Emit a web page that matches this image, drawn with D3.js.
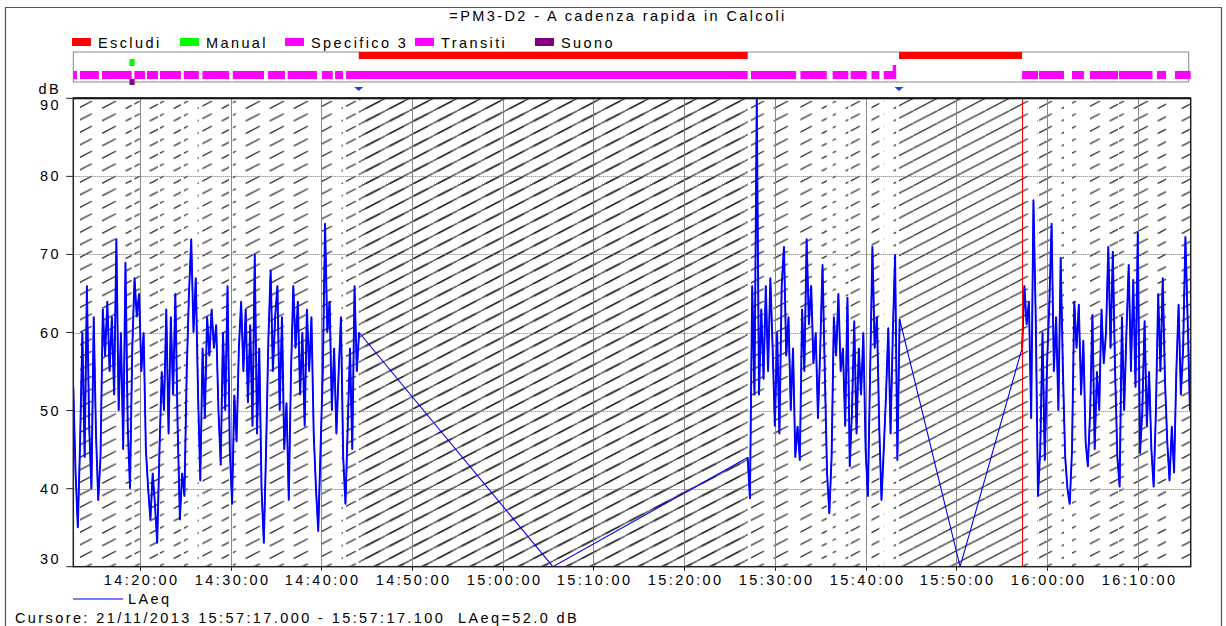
<!DOCTYPE html>
<html>
<head>
<meta charset="utf-8">
<script src="https://cdn.jsdelivr.net/npm/d3@7/dist/d3.min.js"></script>
<style>
  html, body { margin: 0; padding: 0; background: #fff; }
  svg { display: block; }
  text { font-family: "Liberation Sans", Arial, sans-serif; font-size: 14.5px; letter-spacing: 2.4px; fill: #000; white-space: pre; }
</style>
</head>
<body>
<svg id="chart" width="1226" height="626"></svg>
<script>
// ---------------- DATA ----------------
const title = "=PM3-D2 - A cadenza rapida in Calcoli";
const legendNames = ["Escludi", "Manual", "Specifico 3", "Transiti", "Suono"];
const legendColors = ["#ff0000", "#00ff00", "#ff00ff", "#ff00ff", "#800080"];
const domainTimes = ["14:12:40", "16:15:50"];
const yTicks = [30, 40, 50, 60, 70, 80, 90];
const cursorTime = "15:57:17";
const cursorText = "Cursore: 21/11/2013 15:57:17.000 - 15:57:17.100  LAeq=52.0 dB";
const seriesName = "LAeq";

// Escludi periods (start, end)
const escludiStarts = ["14:44:08", "15:43:41"];
const escludiEnds   = ["15:27:00", "15:57:15"];
// Transiti / Specifico 3 periods
const transitiStarts = ["14:12:40","14:13:24","14:15:50","14:19:24","14:20:47","14:22:13","14:24:51","14:26:54","14:30:15","14:34:08","14:36:18","14:40:05","14:41:31","14:42:44","15:27:22","15:32:49","15:36:22","15:38:21","15:40:39","15:42:00","15:57:15","15:59:07","16:02:45","16:04:44","16:07:56","16:12:07","16:14:06"];
const transitiEnds   = ["14:13:04","14:15:29","14:19:06","14:20:34","14:22:00","14:24:32","14:26:30","14:29:50","14:33:41","14:36:00","14:39:32","14:41:16","14:42:24","15:27:00","15:32:20","15:35:43","15:38:06","15:40:07","15:41:31","15:43:22","15:59:00","16:01:52","16:04:04","16:07:49","16:11:37","16:13:07","16:15:50"];
const specificoTall = ["15:42:59", "15:43:22"];
const manualPeriod = ["14:18:52", "14:19:25"];
const suonoPeriod  = ["14:18:52", "14:19:25"];
const markerTimes = ["14:44:08", "15:43:41"];

// LAeq series: three measured stretches sampled every 15 s, plus two bridge points
const stepSeconds = 15;
const seg1Start = "14:12:40";
const seg1Values = [53,42,35,46,60,44,66,48,40,62,47,38.5,44,63,57,64,55,62,52,72,50,60,45,69,48,40,58,67,62,65,55,60,45,40,36,42,38,33,45,55,
  50,63,47,62,52,65,48,36,42,39,55,65,72,60,67,52,41,58,49,62,57,63,58,61,50,43,60,50,66,45,38,52,46,58,64,55,63,51,61,48,
  70,47,58,40,33,45,59,68,55,62,66,50,62,45,51,38.5,55,66,58,64,52,60,48,63,55,62,47,40,34.5,45,55,74,60,64,50,58,47,55,62,44,38,48,58,45,66,55,60];
const seg2Start = "15:27:00";
const seg2Values = [44,38.7,66,52,90,52,63,54,66,55,67,58,48,60,47,66,71,57,62,50,58,44,48,43.6,63,55,72,61,66,56,60,49,58,68.7,55,42,36.8,44,62,57,
  65,55,58,48,64.5,42.8,50,61.5,47,58,52,60,45,39,55,71,58,62,48,38.5,45,52,60.6,47,60,70,43.6,61.7];
const seg3Start = "15:57:15";
const seg3Values = [58,66,61,64,49,77,62,39,45,60,43.6,56,63.6,74,55,62,50,69.6,55,44,40,38,45,64,58,63.6,52,59,46,42.8,50,62.3,45,55,50,63,56,60,71,58,
  70.4,55,44,40.2,62,50,60,68.7,55,66.8,53,72.8,44.5,50,61.5,48,55,45,40.2,50,65,55,67,53.8,46,41,48,42,55,63.6,52,58,72.3,61.5,50];
const bridgeTimes  = ["15:05:32", "15:50:25"];
const bridgeValues = [30, 30];

// ---------------- DRAW ----------------
const parse = d3.timeParse("%H:%M:%S");
const svg = d3.select("#chart");
const L = 73.3, R = 1190.7, T = 98.3, B = 566.7;

const x = d3.scaleTime().domain(domainTimes.map(parse)).range([L, R]);
const y = d3.scaleLinear().domain([30, 90]).range([B, T]);

function buildSeg(start, vals) {
  const t0 = parse(start);
  return vals.map((v, i) => ({ t: new Date(t0.getTime() + i * stepSeconds * 1000), v }));
}
const segs = [buildSeg(seg1Start, seg1Values), buildSeg(seg2Start, seg2Values), buildSeg(seg3Start, seg3Values)];
const series = [].concat(segs[0], segs[1], segs[2])
  .concat(bridgeTimes.map((t, i) => ({ t: parse(t), v: bridgeValues[i] })))
  .sort((a, b) => a.t - b.t);

// outer frame
svg.append("path").attr("d", "M5.5,626 L5.5,7.5 L1221.5,7.5 L1221.5,626")
  .attr("fill", "none").attr("stroke", "#555").attr("stroke-width", 1.2);

// title
svg.append("text").attr("x", 618).attr("y", 21).attr("text-anchor", "middle").text(title);

// legend
const legX = [72, 180, 285, 415, 535];
legendNames.forEach((n, i) => {
  svg.append("rect").attr("x", legX[i]).attr("y", 38).attr("width", 19).attr("height", 8).attr("fill", legendColors[i]);
  svg.append("text").attr("x", legX[i] + 26).attr("y", 48).text(n);
});

// defs: patterns and clip
const defs = svg.append("defs");
const PW = 24, PH = 12.5;
const pSolid = defs.append("pattern").attr("id", "hSolid").attr("patternUnits", "userSpaceOnUse")
  .attr("x", L).attr("y", T).attr("width", PW).attr("height", PH);
pSolid.append("path").attr("d", `M0,${PH} L${PW},0 M${-PW},${PH} L0,0 M${PW},${PH} L${2*PW},0`)
  .attr("stroke", "#222").attr("stroke-width", 1.15).attr("fill", "none");
const pDash = defs.append("pattern").attr("id", "hDash").attr("patternUnits", "userSpaceOnUse")
  .attr("x", L).attr("y", T).attr("width", PW).attr("height", PH);
pDash.append("path").attr("d", `M0,${PH} L${PW},0`)
  .attr("stroke", "#222").attr("stroke-width", 1.15).attr("fill", "none")
  .attr("stroke-dasharray", "16,11.06").attr("stroke-dashoffset", -5);
defs.append("clipPath").attr("id", "plotClip").append("rect")
  .attr("x", L).attr("y", T).attr("width", R - L).attr("height", B - T);

// top band box
const band = svg.append("g");
band.append("rect").attr("x", L).attr("y", 52).attr("width", R - L - 2).attr("height", 30)
  .attr("fill", "#fff").attr("stroke", "#888").attr("stroke-width", 1);
escludiStarts.forEach((s, i) => {
  band.append("rect").attr("x", x(parse(s))).attr("y", 52).attr("width", x(parse(escludiEnds[i])) - x(parse(s)))
    .attr("height", 7).attr("fill", "#ff0000");
});
transitiStarts.forEach((s, i) => {
  band.append("rect").attr("x", x(parse(s))).attr("y", 71).attr("width", x(parse(transitiEnds[i])) - x(parse(s)))
    .attr("height", 8).attr("fill", "#ff00ff");
});
band.append("rect").attr("x", x(parse(specificoTall[0]))).attr("y", 65)
  .attr("width", x(parse(specificoTall[1])) - x(parse(specificoTall[0]))).attr("height", 14).attr("fill", "#ff00ff");
band.append("rect").attr("x", x(parse(manualPeriod[0]))).attr("y", 59)
  .attr("width", x(parse(manualPeriod[1])) - x(parse(manualPeriod[0]))).attr("height", 7).attr("fill", "#00ff00");
band.append("rect").attr("x", x(parse(suonoPeriod[0]))).attr("y", 79)
  .attr("width", x(parse(suonoPeriod[1])) - x(parse(suonoPeriod[0]))).attr("height", 6).attr("fill", "#800080");
markerTimes.forEach(t => {
  const mx = x(parse(t));
  svg.append("path").attr("d", `M${mx-4.5},87 L${mx+4.5},87 L${mx},91 Z`).attr("fill", "#1f3fe0");
});

// plot hatch
const plot = svg.append("g").attr("clip-path", "url(#plotClip)");
transitiStarts.forEach((s, i) => {
  plot.append("rect").attr("x", x(parse(s))).attr("y", T)
    .attr("width", x(parse(transitiEnds[i])) - x(parse(s))).attr("height", B - T).attr("fill", "url(#hDash)");
});
escludiStarts.forEach((s, i) => {
  plot.append("rect").attr("x", x(parse(s))).attr("y", T)
    .attr("width", x(parse(escludiEnds[i])) - x(parse(s))).attr("height", B - T).attr("fill", "url(#hSolid)");
});

// grid
const xTicks = x.ticks(d3.timeMinute.every(10));
plot.selectAll(".vg").data(xTicks).enter().append("line")
  .attr("x1", d => Math.round(x(d)) + 0.5).attr("x2", d => Math.round(x(d)) + 0.5)
  .attr("y1", T).attr("y2", B).attr("stroke", "#8a8a8a").attr("stroke-width", 1);
plot.selectAll(".hg").data(yTicks.slice(1, -1)).enter().append("line")
  .attr("x1", L).attr("x2", R).attr("y1", d => Math.round(y(d)) + 0.5).attr("y2", d => Math.round(y(d)) + 0.5)
  .attr("stroke", "#777").attr("stroke-width", 1).attr("stroke-dasharray", "1,1");

// data line: thin full path (incl. bridges) + heavier measured stretches
const line = d3.line().x(d => x(d.t)).y(d => y(d.v));
plot.append("path").datum(series).attr("d", line)
  .attr("fill", "none").attr("stroke", "#0000ff").attr("stroke-width", 1.1).attr("stroke-linejoin", "round");
segs.forEach(sg => {
  plot.append("path").datum(sg).attr("d", line)
    .attr("fill", "none").attr("stroke", "#0000ff").attr("stroke-width", 1.9).attr("stroke-linejoin", "miter").attr("stroke-miterlimit", 4);
});

// cursor
const cx = Math.round(x(parse(cursorTime))) + 0.5;
svg.append("line").attr("x1", cx).attr("x2", cx).attr("y1", T).attr("y2", B)
  .attr("stroke", "#ff0000").attr("stroke-width", 1);

// plot border
svg.append("rect").attr("x", L).attr("y", T).attr("width", R - L).attr("height", B - T)
  .attr("fill", "none").attr("stroke", "#222").attr("stroke-width", 1.5);
svg.append("line").attr("x1", L).attr("x2", R).attr("y1", T).attr("y2", T).attr("stroke", "#111").attr("stroke-width", 2);

// y axis
const yAxis = svg.append("g");
yTicks.forEach(v => {
  const yy = y(v);
  yAxis.append("line").attr("x1", L - 7).attr("x2", L).attr("y1", yy).attr("y2", yy).attr("stroke", "#222");
  const ly = Math.min(Math.max(yy + 5, T + 12), B - 3);
  yAxis.append("text").attr("x", 61).attr("y", ly).attr("text-anchor", "end").text(v);
});
svg.append("text").attr("x", 61).attr("y", 94).attr("text-anchor", "end").text("dB");

// x axis
const xAxis = svg.append("g");
xTicks.forEach(d => {
  const xx = Math.round(x(d)) + 0.5;
  xAxis.append("line").attr("x1", xx).attr("x2", xx).attr("y1", B).attr("y2", B + 4).attr("stroke", "#222");
  xAxis.append("text").attr("x", xx + 1.2).attr("y", 585).attr("text-anchor", "middle").text(d3.timeFormat("%H:%M:%S")(d));
});

// bottom legend
svg.append("line").attr("x1", 73).attr("x2", 123).attr("y1", 599).attr("y2", 599)
  .attr("stroke", "#7a7aff").attr("stroke-width", 2);
svg.append("text").attr("x", 128).attr("y", 604).text(seriesName);
svg.append("text").attr("x", 15).attr("y", 623).text(cursorText);
</script>
</body>
</html>
